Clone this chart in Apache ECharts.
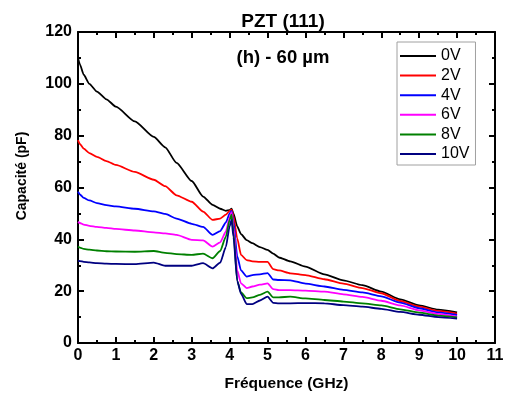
<!DOCTYPE html>
<html>
<head>
<meta charset="utf-8">
<script src="https://cdn.jsdelivr.net/npm/echarts@6/dist/echarts.min.js"></script>
<style>
  html, body { margin: 0; padding: 0; background: #fff; }
  #chart { width: 507px; height: 397px; }
</style>
</head>
<body>
<div id="chart"></div>
<script>
// Frequency sweep (GHz) shared by all bias curves
const freq = [0, 0.05, 0.15, 0.3, 0.5, 0.75, 1.0, 1.5, 2.0, 2.3, 2.6, 3.0, 3.3, 3.55, 3.75, 3.9, 4.0, 4.05, 4.1, 4.2, 4.3, 4.45, 4.6, 4.8, 5.0, 5.15, 5.3, 5.6, 6.0, 6.5, 7.0, 7.5, 8.0, 8.5, 9.0, 9.5, 10.0];

// Capacitance (pF) per DC bias
const cap0V  = [110, 107.5, 103.5, 100, 97, 94, 91.2, 85.5, 79.5, 75.5, 69.5, 62.5, 56.5, 53.3, 51.8, 51, 51.3, 51.8, 50, 45, 42, 39.7, 38.5, 37, 35.9, 34.5, 33, 31.5, 29.5, 26.5, 24.2, 22.3, 19.8, 16.8, 14.5, 12.9, 11.8];
const cap2V  = [78.3, 76.8, 75, 73.3, 71.8, 70.2, 68.7, 66, 63, 60.5, 57, 54.5, 50.7, 47.5, 48, 49.5, 51, 51.5, 49, 40.4, 34, 32, 31.5, 31.3, 31.3, 28.5, 28, 26.9, 26.2, 24.6, 22.9, 21.2, 19.2, 16.2, 14, 12.4, 11.3];
const cap4V  = [58.4, 57.3, 56, 55, 54, 53.2, 52.7, 51.8, 50.8, 49.8, 48, 46, 44.8, 41.7, 43.2, 46.5, 50, 51, 47, 33.5, 28, 25.6, 26.2, 26.5, 27, 24.5, 24.3, 24.2, 22.9, 21.8, 20.5, 19.5, 18, 15.6, 13.4, 11.8, 10.8];
const cap6V  = [46.8, 46.3, 45.7, 45.2, 44.8, 44.4, 44, 43.4, 42.7, 42.3, 41.7, 39.8, 39.6, 37.2, 38.8, 43, 48.5, 50.5, 45, 28, 23, 21.2, 21.8, 22.5, 23, 20.8, 20.4, 20.4, 20.2, 19.8, 18.8, 17.8, 16.3, 14.5, 12.6, 11.2, 10.2];
const cap8V  = [37.2, 36.8, 36.3, 36, 35.7, 35.4, 35.3, 35.2, 35.5, 34.8, 34.3, 34, 34.5, 32.7, 35.5, 41, 47.5, 49.5, 43, 24, 19.5, 17.3, 17.6, 18.6, 19.8, 17.6, 17.6, 17.9, 17.2, 16.6, 16, 15.3, 14.5, 13, 11.7, 10.6, 9.9];
const cap10V = [31.8, 31.6, 31.3, 31.1, 30.8, 30.6, 30.5, 30.4, 31, 29.8, 29.8, 29.8, 30.8, 28.8, 31, 37, 45, 47.5, 41, 24, 19, 15, 15, 16.4, 17.9, 15.5, 15.3, 15.3, 15.4, 15.3, 14.6, 14, 13.2, 12, 10.9, 10, 9.4];

const seriesNames = ['0V', '2V', '4V', '6V', '8V', '10V'];
const seriesData = [cap0V, cap2V, cap4V, cap6V, cap8V, cap10V];
const seriesColors = ['#000000', '#ff0000', '#0000ff', '#ff00ff', '#008000', '#000080'];

const xTicks = { min: 0, max: 11, interval: 1 };
const yTicks = { min: 0, max: 120, interval: 20 };

const FONT = 'Liberation Sans, Arial, sans-serif';

const chart = echarts.init(document.getElementById('chart'), null, { renderer: 'canvas' });

const axisCommon = {
  axisLine: { show: true, onZero: false, lineStyle: { color: '#000', width: 2 } },
  axisTick: { show: true, inside: true, length: 6, lineStyle: { color: '#000', width: 2 } },
  minorTick: { show: true, splitNumber: 2, length: 3, lineStyle: { color: '#000', width: 2 } },
  splitLine: { show: false },
  minorSplitLine: { show: false }
};

const labelStyle = { fontFamily: FONT, fontWeight: 'bold', fontSize: 16, color: '#000' };

chart.setOption({
  backgroundColor: '#fff',
  animation: false,
  title: [
    { text: 'PZT (111)', left: 278, top: 7, textAlign: 'center',
      textStyle: { fontFamily: FONT, fontWeight: 'bold', fontSize: 19, color: '#000' } },
    { text: '(h) - 60 µm', left: 278, top: 43, textAlign: 'center',
      textStyle: { fontFamily: FONT, fontWeight: 'bold', fontSize: 18.5, color: '#000' } }
  ],
  legend: {
    data: seriesNames,
    icon: 'rect',
    orient: 'vertical',
    left: 397, top: 42,
    width: 74,
    padding: [6, 6, 3, 3],
    itemWidth: 36, itemHeight: 2, itemGap: 3.6,
    borderColor: '#a0a0a0', borderWidth: 1,
    textStyle: { fontFamily: FONT, fontSize: 16, color: '#000', lineHeight: 14 }
  },
  grid: { left: 78, right: 12, top: 32, bottom: 54, containLabel: false },
  xAxis: [
    Object.assign({}, axisCommon, {
      type: 'value', position: 'bottom', min: xTicks.min, max: xTicks.max, interval: xTicks.interval,
      name: 'Fréquence (GHz)', nameLocation: 'middle', nameGap: 33,
      nameTextStyle: Object.assign({}, labelStyle, { fontSize: 15.5 }),
      axisLabel: Object.assign({ margin: 5 }, labelStyle)
    }),
    Object.assign({}, axisCommon, {
      type: 'value', position: 'top', min: xTicks.min, max: xTicks.max, interval: xTicks.interval,
      axisLabel: { show: false }
    })
  ],
  yAxis: [
    Object.assign({}, axisCommon, {
      type: 'value', position: 'left', min: yTicks.min, max: yTicks.max, interval: yTicks.interval,
      name: 'Capacité (pF)', nameLocation: 'middle', nameGap: 49,
      nameTextStyle: Object.assign({}, labelStyle, { fontSize: 14, padding: [0, 0, 0, 23] }),
      axisLabel: Object.assign({ margin: 6 }, labelStyle)
    }),
    Object.assign({}, axisCommon, {
      type: 'value', position: 'right', min: yTicks.min, max: yTicks.max, interval: yTicks.interval,
      axisLabel: { show: false }
    })
  ],
  series: seriesNames.map((name, i) => ({
    name: name,
    type: 'line',
    xAxisIndex: 0,
    yAxisIndex: 0,
    symbol: 'none',
    smooth: 0.2,
    smoothMonotone: 'x',
    color: seriesColors[i],
    lineStyle: { width: 1.8, color: seriesColors[i] },
    data: freq.map((f, k) => [f, seriesData[i][k]])
  }))
});
</script>
</body>
</html>
